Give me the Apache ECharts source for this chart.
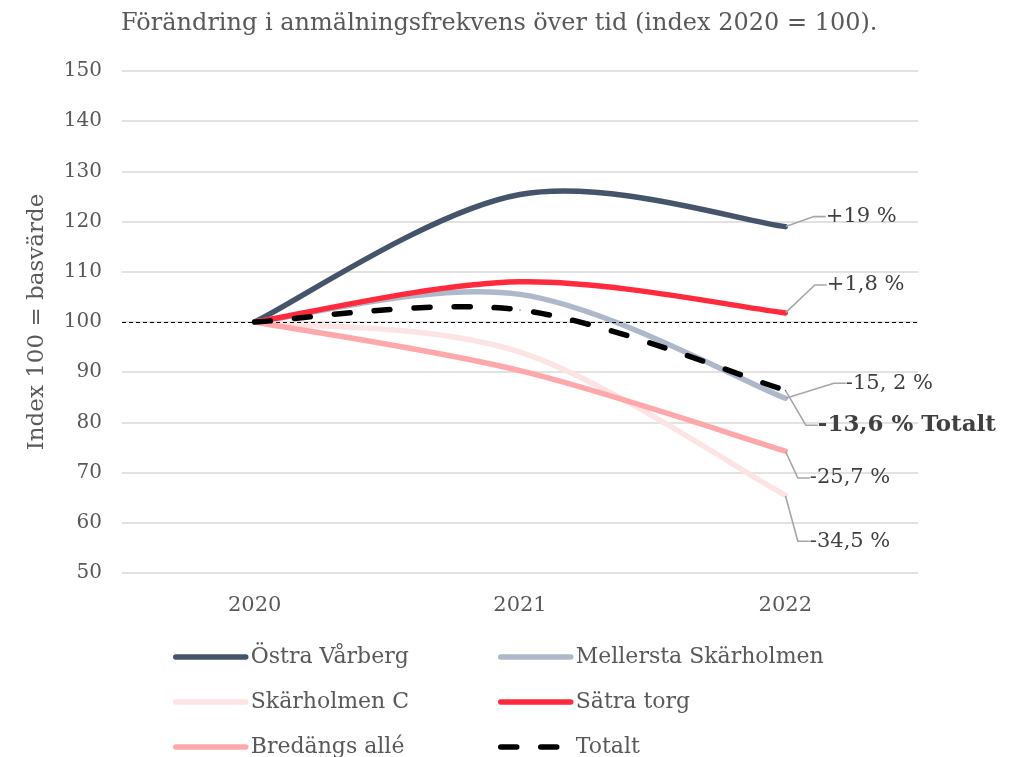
<!DOCTYPE html>
<html>
<head>
<meta charset="utf-8">
<script src="https://cdn.jsdelivr.net/npm/echarts@6/dist/echarts.min.js"></script>
<style>
  html, body { margin: 0; padding: 0; background: #fff; }
  #chart { width: 1028px; height: 757px; }
</style>
</head>
<body>
<div id="chart"></div>
<script>
// data
var years = ['2020', '2021', '2022'];
var ostraVarberg = [100, 125.4, 119];
var mellerstaSkarholmen = [100, 105.5, 84.8];
var skarholmenC = [100, 94, 65.5];
var satraTorg = [100, 108, 101.8];
var bredangsAlle = [100, 90.3, 74.3];
var totalt = [100, 102.4, 86.4];

var seriesNames = ['Östra Vårberg', 'Mellersta Skärholmen', 'Skärholmen C', 'Sätra torg', 'Bredängs allé', 'Totalt'];
var endLabels = ['+19 %', '-15, 2 %', '-34,5 %', '+1,8 %', '-25,7 %', '-13,6 % Totalt'];

var FONT = 'DejaVu Serif';
var colors = ['#44546a', '#adb9ca', '#fde4e4', '#ff2b3c', '#ffa8ab', '#000000'];
var values = [ostraVarberg, mellerstaSkarholmen, skarholmenC, satraTorg, bredangsAlle, totalt];
// label offsets from the 2022 point
var labelMoves = [[40, -10], [60, -15], [24, 46], [41, -28], [24, 27], [32, 35]];
var LW = 5.5;

// excel-like smooth curve (catmull-rom) through the axis coords
function smoothPath(pts) {
    var d = 'M' + pts[0][0] + ' ' + pts[0][1];
    for (var k = 0; k < pts.length - 1; k++) {
        var p0 = pts[Math.max(k - 1, 0)], p1 = pts[k], p2 = pts[k + 1], p3 = pts[Math.min(k + 2, pts.length - 1)];
        var c1x = p1[0] + (p2[0] - p0[0]) / 6, c1y = p1[1] + (p2[1] - p0[1]) / 6;
        var c2x = p2[0] - (p3[0] - p1[0]) / 6, c2y = p2[1] - (p3[1] - p1[1]) / 6;
        d += ' C' + c1x + ' ' + c1y + ' ' + c2x + ' ' + c2y + ' ' + p2[0] + ' ' + p2[1];
    }
    return d;
}

function makeCurve(i) {
    return {
        type: 'custom',
        silent: true,
        z: 2 + i,
        data: values[i].map(function (v, k) { return [k, v]; }),
        encode: { x: 0, y: 1 },
        renderItem: function (params, api) {
            if (params.dataIndex !== 0) return null;
            var pts = values[i].map(function (v, k) { return api.coord([k, v]); });
            var style = { stroke: colors[i], lineWidth: LW, fill: 'none', lineCap: 'round', lineJoin: 'round' };
            if (i == 5) style.lineDash = [16, 24];
            return { type: 'path', shape: { pathData: smoothPath(pts) }, style: style };
        }
    };
}

// invisible line series: legend entries + end labels
function makeSeries(i) {
    var last = values[i].length - 1;
    return {
        name: seriesNames[i],
        type: 'line',
        symbol: 'circle',
        symbolSize: 1,
        z: 2 + i,
        color: colors[i],
        lineStyle: i == 5 ? { width: LW, type: [16, 24], cap: 'round', color: colors[i], opacity: 0 }
                          : { width: LW, cap: 'round', color: colors[i], opacity: 0 },
        data: values[i].map(function (v, k) {
            if (k !== last) return v;
            return {
                value: v,
                label: {
                    show: true,
                    position: 'right',
                    distance: 0,
                    formatter: endLabels[i],
                    fontFamily: FONT,
                    fontSize: i == 5 ? 23 : 21,
                    fontWeight: i == 5 ? 'bold' : 'normal',
                    color: '#404040'
                }
            };
        }),
        labelLine: { show: true, length2: 12, lineStyle: { color: '#a6a6a6', width: 1.6 } },
        labelLayout: { dx: labelMoves[i][0], dy: labelMoves[i][1] }
    };
}

var series = [];
for (var i = 0; i < seriesNames.length; i++) series.push(makeSeries(i));
for (var j = 0; j < seriesNames.length; j++) series.push(makeCurve(j));

// dashed reference line at index 100
series[0].markLine = {
    silent: true,
    symbol: 'none',
    label: { show: false },
    lineStyle: { color: '#000', type: [4, 3], width: 1, opacity: 1 },
    data: [{ yAxis: 100 }]
};

var myChart = echarts.init(document.getElementById('chart'));

var legendCommon = {
    orient: 'vertical',
    top: 646,
    height: 130,
    padding: 0,
    itemWidth: 70,
    itemHeight: 6,
    itemGap: 23,
    itemStyle: { opacity: 0 },
    lineStyle: { width: LW, opacity: 1 },
    textStyle: { fontFamily: FONT, fontSize: 22, color: '#595959', lineHeight: 22 }
};

var option = {
    animation: false,
    title: {
        text: 'Förändring i anmälningsfrekvens över tid (index 2020 = 100).',
        left: 116,
        top: 7,
        textStyle: { fontFamily: FONT, fontSize: 24, fontWeight: 'normal', color: '#595959' }
    },
    legend: [
        Object.assign({}, legendCommon, { left: 173, data: ['Östra Vårberg', 'Skärholmen C', 'Bredängs allé'] }),
        Object.assign({}, legendCommon, { left: 498, data: ['Mellersta Skärholmen', 'Sätra torg', 'Totalt'] })
    ],
    grid: { left: 122, right: 110, top: 71, bottom: 184 },
    xAxis: {
        type: 'category',
        data: years,
        boundaryGap: true,
        axisLine: { show: false },
        axisTick: { show: false },
        axisLabel: { fontFamily: FONT, fontSize: 21, color: '#595959', margin: 22 }
    },
    yAxis: {
        type: 'value',
        min: 50,
        max: 150,
        interval: 10,
        name: 'Index 100 = basvärde',
        nameLocation: 'middle',
        nameGap: 73,
        nameTextStyle: { fontFamily: FONT, fontSize: 23, color: '#595959' },
        axisLine: { show: false },
        axisTick: { show: false },
        axisLabel: { fontFamily: FONT, fontSize: 20, color: '#595959', margin: 20 },
        splitLine: { lineStyle: { color: '#d9d9d9', width: 1.5 } }
    },
    series: series
};

myChart.setOption(option);
</script>
</body>
</html>
